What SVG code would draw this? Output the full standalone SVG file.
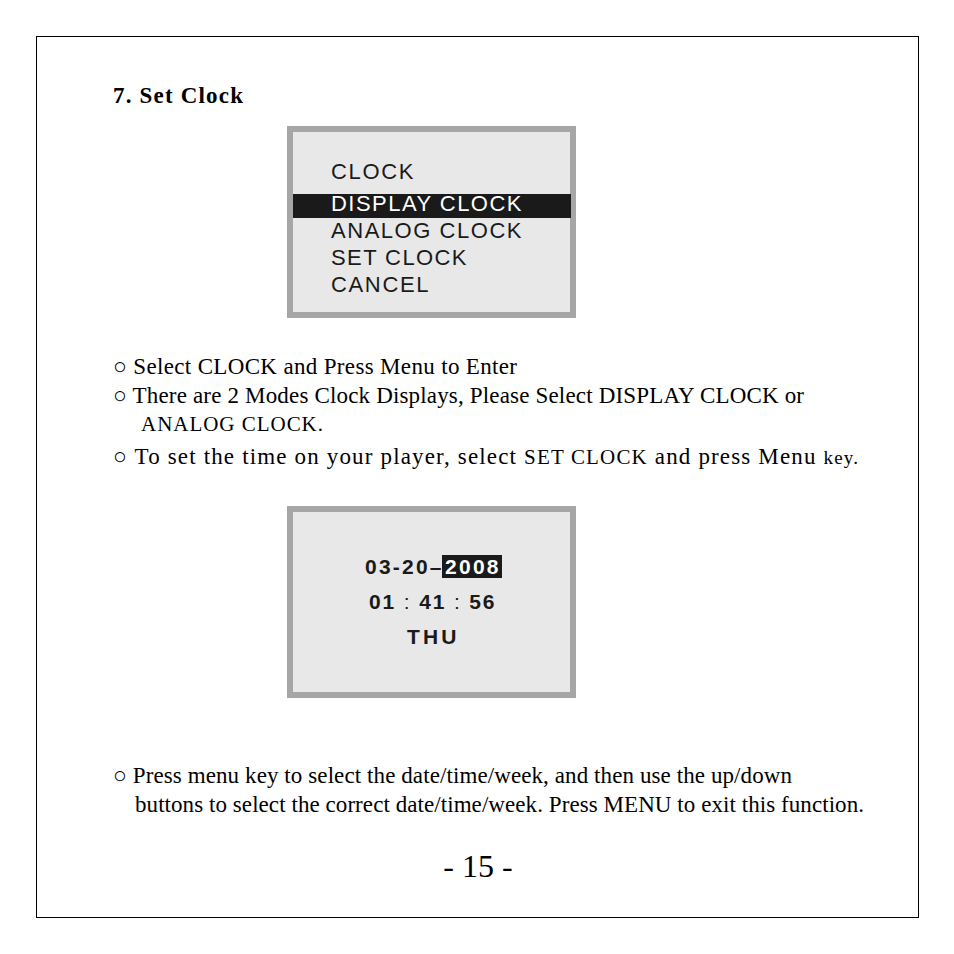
<svg xmlns="http://www.w3.org/2000/svg" width="954" height="954" viewBox="0 0 954 954">
<style>
.t{font-family:"Liberation Serif",serif;font-size:23px;fill:#000}
.s{font-family:"Liberation Sans",Arial,sans-serif;font-size:22px;fill:#1a1a1a;letter-spacing:0.5px}
.b{font-family:"Liberation Sans",Arial,sans-serif;font-size:21px;font-weight:bold;fill:#1a1a1a;letter-spacing:0.5px}
.scr{fill:#e8e8e8;stroke:#a6a6a6;stroke-width:6}
</style>
<rect width="954" height="954" fill="#fff"/>
<rect x="36.5" y="36.5" width="882" height="881" fill="none" stroke="#000" stroke-width="1"/>
<text x="113" y="103" class="t" style="font-weight:bold" textLength="130">7. Set Clock</text>
<g id="menu">
<rect x="290" y="129" width="283" height="186" class="scr"/>
<text x="331" y="179" class="s" textLength="83">CLOCK</text>
<rect x="293" y="194" width="278" height="24" fill="#1a1a1a"/>
<text x="331" y="211" class="s" style="fill:#fff" textLength="191">DISPLAY CLOCK</text>
<text x="331" y="238" class="s" textLength="191">ANALOG CLOCK</text>
<text x="331" y="265" class="s" textLength="136">SET CLOCK</text>
<text x="331" y="292" class="s" textLength="98">CANCEL</text>
</g>
<text x="113" y="374" class="t" textLength="404">○ Select  CLOCK and Press Menu to Enter</text>
<text x="113" y="403" class="t" textLength="691">○ There are 2 Modes Clock Displays, Please Select DISPLAY CLOCK or</text>
<text x="141" y="431" class="t" style="font-size:21px" textLength="182">ANALOG CLOCK.</text>
<text x="113" y="464" class="t" textLength="745">○ To set the time on your player, select <tspan style="font-size:21px">SET CLOCK</tspan> and press Menu <tspan style="font-size:19px">key.</tspan></text>
<g id="clock">
<rect x="290" y="509" width="283" height="186" class="scr"/>
<text x="365" y="574" class="b" textLength="77">03-20–</text>
<rect x="442" y="555" width="60" height="23" fill="#1a1a1a"/>
<text x="445" y="574" class="b" style="fill:#fff" textLength="54">2008</text>
<text x="369" y="609" class="b" textLength="126">01 <tspan style="font-weight:normal">:</tspan> 41 <tspan style="font-weight:normal">:</tspan> 56</text>
<text x="407" y="644" class="b" textLength="50">THU</text>
</g>
<text x="113" y="783" class="t" textLength="679">○ Press menu key to select the date/time/week, and then use the up/down</text>
<text x="135" y="812" class="t" textLength="729">buttons to select the correct date/time/week. Press MENU to exit this function.</text>
<text x="478" y="877" class="t" style="font-size:32px" text-anchor="middle">- 15 -</text>
</svg>
